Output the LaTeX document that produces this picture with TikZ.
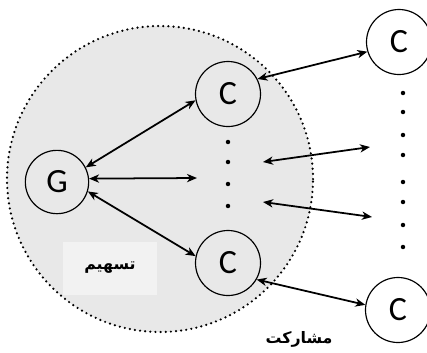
\documentclass[tikz,border=0pt]{standalone}
\usepackage{fontspec}
\usetikzlibrary{arrows.meta}
\setmainfont{Carlito}
\newfontfamily\farsi[Script=Arabic]{DejaVu Sans}
\TeXXeTstate=1
\definecolor{zonegray}{HTML}{E8E8E8}
\definecolor{taggray}{HTML}{F2F2F2}
\begin{document}
\begin{tikzpicture}[x=0.03cm, y=-0.03cm, >={Stealth[length=8.5pt, width=7pt, inset=2.5pt]},
    agent/.style={draw, circle, minimum size=1.95cm, inner sep=0pt, line width=1pt, font=\fontsize{29}{30}\selectfont},
    link/.style={<->, line width=1.5pt},
    dot/.style={circle, fill=black, inner sep=0pt, minimum size=3.8pt},
    tag/.style={font=\farsi\bfseries\fontsize{13.5}{15}\selectfont}]
    \useasboundingbox (0,0) rectangle (427,352);
    % shaded zone
    \node[draw, circle, line width=2.1pt, line cap=round, dash pattern=on 0pt off 4.4pt, fill=zonegray, minimum size=9.18cm] (zone) at (160,179) {};
    \node[tag, fill=taggray, minimum width=2.82cm, minimum height=1.59cm] (share) at (110,268) {\beginR تسهیم\endR};
    \node[tag] (part) at (299,339) {\beginR مشارکت\endR};
    % agents
    \node[agent, minimum size=1.9cm] (g) at (57,182) {G};
    \node[agent] (c1) at (228,94) {C};
    \node[agent] (c2) at (228,263) {C};
    \node[agent] (r1) at (399,42) {C};
    \node[agent] (r2) at (398,310) {C};
    \foreach \y in {142, 162, 184, 206}
       \node[dot] at (228,\y) {};
    \foreach \y in {93, 112, 135, 155, 182, 202, 225, 247}
       \node[dot] at (403,\y) {};
    \coordinate (mid) at (197,178);
    \coordinate (ua) at (263,162);
    \coordinate (ub) at (370,147);
    \coordinate (la) at (263,202);
    \coordinate (lb) at (372,217);
    % links
    \draw[link] (g.27) -- (c1.191);
    \draw[link] (g.6) -- (mid);
    \draw[link] (g.-17) -- (c2.168);
    \draw[link] (c1.27) -- (r1.197);
    \draw[link] (c2.-30) -- (r2.171);
    \draw[link] (ua) -- (ub);
    \draw[link] (la) -- (lb);
\end{tikzpicture}
\end{document}
